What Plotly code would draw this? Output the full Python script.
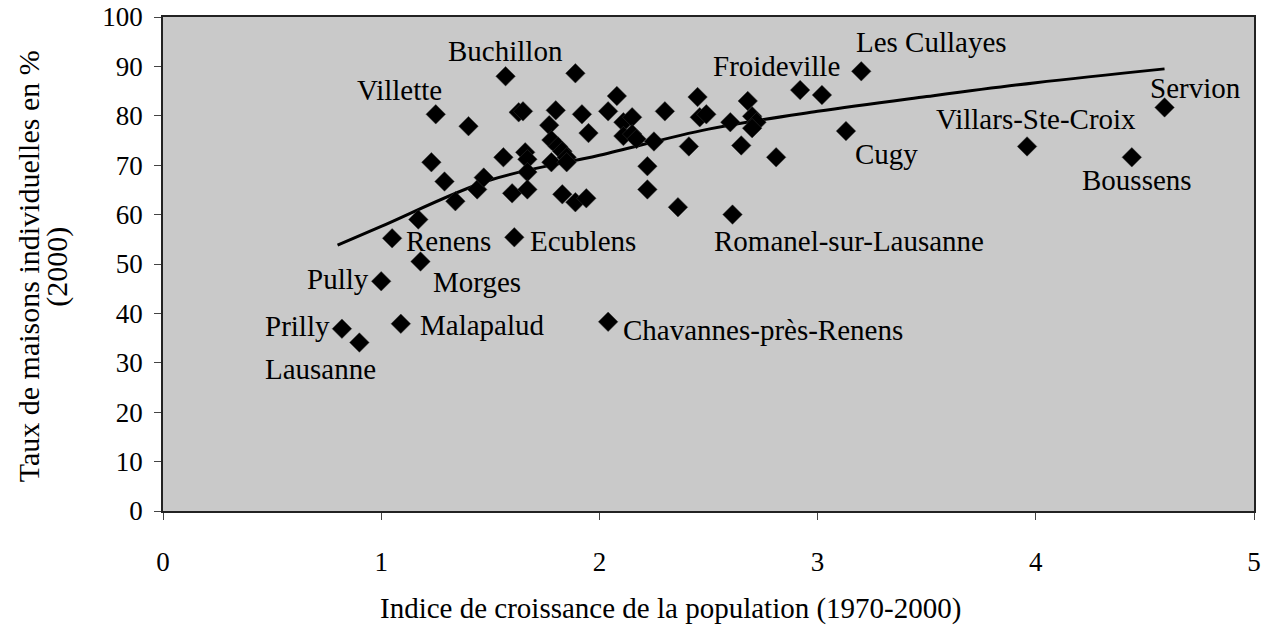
import plotly.graph_objects as go

# Indice de croissance de la population (1970-2000) / taux de maisons individuelles (2000)
communes = ["Prilly", "Lausanne", "Pully", "Malapalud", "Morges", "Renens", "Ecublens",
            "Chavannes-près-Renens", "Romanel-sur-Lausanne", "Villette", "Buchillon",
            "Froideville", "Les Cullayes", "Cugy", "Villars-Ste-Croix", "Boussens", "Servion"]
croissance_noms = [0.82, 0.90, 1.00, 1.09, 1.18, 1.05, 1.61,
                   2.04, 2.61, 1.25, 1.57,
                   2.92, 3.20, 3.13, 3.96, 4.44, 4.59]
maisons_noms = [36.9, 34.1, 46.5, 37.9, 50.5, 55.2, 55.4,
                38.3, 60.0, 80.3, 88.0,
                85.2, 89.0, 76.9, 73.8, 71.6, 81.7]

# autres communes (sans étiquette)
croissance_autres = [1.17, 1.23, 1.29, 1.34, 1.40, 1.44, 1.47, 1.56, 1.60, 1.63,
                     1.65, 1.66, 1.67, 1.67, 1.67, 1.77, 1.78, 1.81, 1.83, 1.85,
                     1.78, 1.85, 1.80, 1.83, 1.89, 1.94, 1.89, 1.92, 1.95, 2.04,
                     2.08, 2.11, 2.15, 2.11, 2.15, 2.17, 2.25, 2.22, 2.22, 2.30,
                     2.36, 2.45, 2.46, 2.49, 2.41, 2.60, 2.68, 2.70, 2.72, 2.70,
                     2.65, 2.81, 3.02]
maisons_autres = [59.0, 70.6, 66.7, 62.7, 77.9, 65.1, 67.5, 71.6, 64.3, 80.7,
                  80.9, 72.6, 71.2, 68.6, 65.1, 78.1, 75.1, 73.8, 72.8, 71.6,
                  70.6, 70.6, 81.1, 64.1, 62.5, 63.3, 88.6, 80.3, 76.5, 80.9,
                  84.0, 78.7, 79.7, 75.9, 76.3, 75.3, 74.8, 69.8, 65.1, 80.9,
                  61.5, 83.8, 79.7, 80.3, 73.8, 78.7, 83.0, 79.9, 78.7, 77.5,
                  74.0, 71.6, 84.2]

# courbe de tendance (logarithmique)
tendance_x = [0.80, 1.0, 1.5, 2.0, 2.5, 3.0, 3.5, 4.0, 4.59]
tendance_y = [53.8, 57.6, 67.0, 72.0, 77.3, 80.9, 83.9, 86.7, 89.5]

x_ticks = [0, 1, 2, 3, 4, 5]
y_ticks = [0, 10, 20, 30, 40, 50, 60, 70, 80, 90, 100]

police = "Liberation Serif, Times New Roman, serif"

fig = go.Figure()

fig.add_trace(go.Scatter(x=tendance_x, y=tendance_y, mode="lines", line_shape="spline",
                         line=dict(color="black", width=3), hoverinfo="skip"))

fig.add_trace(go.Scatter(x=croissance_autres + croissance_noms,
                         y=maisons_autres + maisons_noms,
                         mode="markers",
                         marker=dict(symbol="diamond", size=15, color="black",
                                     line=dict(color="#333333", width=0.5))))

# placement des étiquettes : (xanchor, xshift, yshift)
placement = {
    "Prilly": ("right", -10, 3),
    "Lausanne": ("center", -39, -26),
    "Pully": ("right", -10, 2),
    "Malapalud": ("left", 17, -1),
    "Morges": ("left", 11, -20),
    "Renens": ("left", 12, -3),
    "Ecublens": ("left", 14, -4),
    "Chavannes-près-Renens": ("left", 13, -8),
    "Romanel-sur-Lausanne": ("left", -21, -26),
    "Villette": ("right", 8, 24),
    "Buchillon": ("center", 0, 25),
    "Froideville": ("right", 42, 24),
    "Les Cullayes": ("left", -7, 29),
    "Cugy": ("left", 7, -23),
    "Villars-Ste-Croix": ("center", 9, 27),
    "Boussens": ("center", 5, -23),
    "Servion": ("center", 31, 19),
}

for nom, cx, my in zip(communes, croissance_noms, maisons_noms):
    ancre, dx, dy = placement[nom]
    fig.add_annotation(x=cx, y=my, text=nom, showarrow=False, xanchor=ancre,
                       yanchor="middle", xshift=dx, yshift=dy,
                       font=dict(family=police, size=29, color="black"))

fig.add_annotation(text="Indice de croissance de la population (1970-2000)",
                   xref="paper", yref="paper", x=0.465, y=-0.198, showarrow=False,
                   xanchor="center", yanchor="middle",
                   font=dict(family=police, size=29, color="black"))

# titre de l'axe y sur deux lignes
fig.add_annotation(text="Taux de maisons individuelles en %",
                   xref="paper", yref="paper", x=-0.123, y=0.495, showarrow=False,
                   textangle=-90, xanchor="center", yanchor="middle",
                   font=dict(family=police, size=30, color="black"))
fig.add_annotation(text="(2000)",
                   xref="paper", yref="paper", x=-0.097, y=0.495, showarrow=False,
                   textangle=-90, xanchor="center", yanchor="middle",
                   font=dict(family=police, size=30, color="black"))

fig.update_layout(
    width=1266, height=632,
    margin=dict(l=163, r=12, t=17, b=121),
    paper_bgcolor="white",
    plot_bgcolor="#c9c9c9",
    showlegend=False,
    font=dict(family=police, size=26, color="black"),
)

fig.update_xaxes(range=[0, 5], tickvals=x_ticks, showgrid=False, zeroline=False,
                 showline=True, linecolor="#222222", linewidth=1.5, mirror=True,
                 ticks="outside", ticklen=7, tickcolor="#444444", automargin=False,
                 ticklabelstandoff=19, tickfont=dict(size=27))
fig.update_yaxes(range=[0, 100], tickvals=y_ticks, showgrid=False, zeroline=False,
                 showline=True, linecolor="#222222", linewidth=1.5, mirror=True,
                 ticks="outside", ticklen=7, tickcolor="#444444", automargin=False,
                 ticklabelstandoff=6, tickfont=dict(size=27))

fig.write_html("out.html", config={"displayModeBar": False},
               post_script="document.body.style.margin='0px';")
